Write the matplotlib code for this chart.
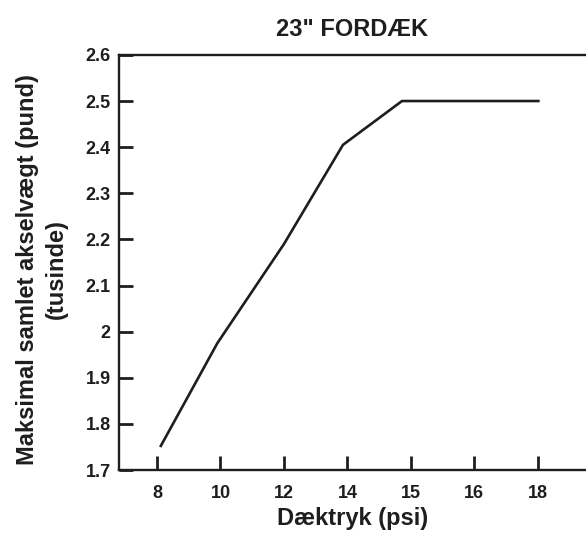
import matplotlib.pyplot as plt

# data
psi_labels = ["8", "10", "12", "14", "15", "16", "18"]
line_pos = [0.05, 0.95, 2.0, 2.93, 3.86, 6.03]
load = [1.75, 1.975, 2.19, 2.405, 2.5, 2.5]
y_ticks = [1.7, 1.8, 1.9, 2.0, 2.1, 2.2, 2.3, 2.4, 2.5, 2.6]
y_labels = ["1.7", "1.8", "1.9", "2", "2.1", "2.2", "2.3", "2.4", "2.5", "2.6"]

ink = "#1e1e1e"
plt.rcParams['font.family'] = ['Liberation Sans', 'DejaVu Sans']
plt.rcParams['font.weight'] = 'bold'

fig = plt.figure(figsize=(5.86, 5.33), dpi=100)
ax = fig.add_axes([0.203, 0.118, 0.797, 0.779])

ax.plot(line_pos, load, color=ink, lw=1.9, solid_capstyle='butt',
        clip_on=False)

ax.set_xlim(-0.6, 6.76)
ax.set_ylim(1.7, 2.6)
ax.set_xticks(range(len(psi_labels)))
ax.set_xticklabels(psi_labels)
ax.set_yticks(y_ticks)
ax.set_yticklabels(y_labels)

ax.spines['right'].set_visible(False)
for s in ['left', 'bottom', 'top']:
    ax.spines[s].set_linewidth(1.7)
    ax.spines[s].set_color(ink)

ax.tick_params(axis='both', direction='in', length=10, width=2, colors=ink,
               labelsize=13)
ax.tick_params(axis='x', pad=11)
ax.tick_params(axis='y', pad=6)
for lab in ax.get_xticklabels() + ax.get_yticklabels():
    lab.set_fontweight('bold')

ax.set_title('23" FORDÆK', fontsize=17, fontweight='bold', color=ink, pad=13.5)
ax.set_xlabel("Dæktryk (psi)", fontsize=17, fontweight='bold', color=ink,
              labelpad=3)
ax.set_ylabel("Maksimal samlet akselvægt (pund)\n(tusinde)", fontsize=17,
              fontweight='bold', color=ink, linespacing=1.3)
ax.yaxis.set_label_coords(-0.11, 0.483)

fig.savefig("out.png", dpi=100)
